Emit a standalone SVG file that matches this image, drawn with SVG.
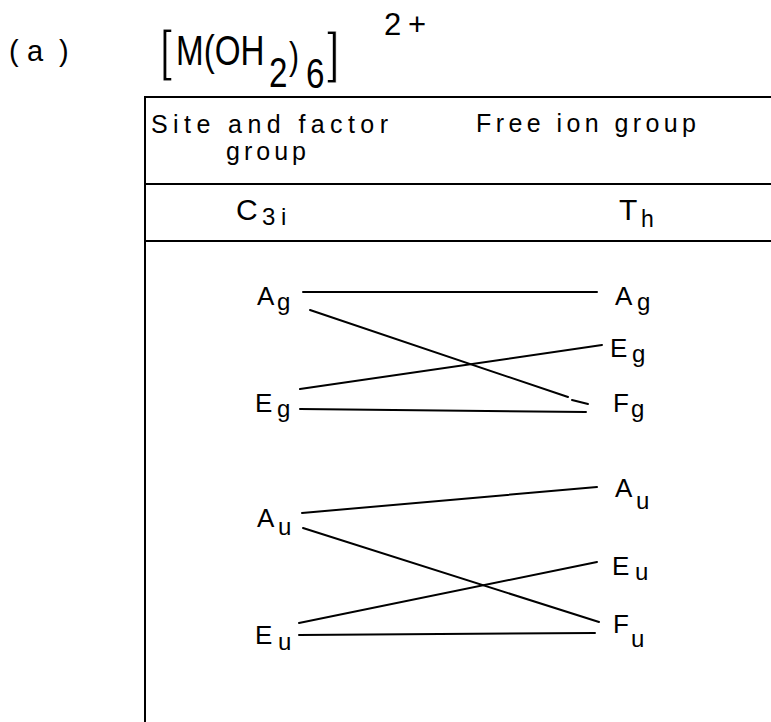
<svg xmlns="http://www.w3.org/2000/svg" width="771" height="722" viewBox="0 0 771 722">
  <style>
    text { font-family: "Liberation Sans", Arial, sans-serif; fill: #000; }
    .lab { font-size: 26px; }
    .sub { font-size: 24px; }
    .hdr { font-size: 25px; }
    .thin { stroke: #fff; stroke-width: 0.8px; }
    .rule { stroke: #000; stroke-width: 2; fill: none; }
    .conn line { stroke: #000; stroke-width: 2; stroke-linecap: round; }
  </style>
  <rect width="771" height="722" fill="#fff"/>

  <g id="label-a">
    <text x="9 27 59" y="61" font-size="29">(a)</text>
  </g>

  <g id="title">
    <text transform="scale(0.79,1)"><tspan class="thin" x="202.5" y="69" font-size="55">[</tspan><tspan x="222.8" y="65" font-size="42">M(OH</tspan><tspan x="340.5" y="87" font-size="42">2</tspan><tspan x="365.8" y="69" font-size="38">)</tspan><tspan x="387.3" y="88" font-size="42">6</tspan><tspan class="thin" x="413.9" y="71" font-size="56">]</tspan></text>
    <text x="384 408" y="35" font-size="31">2+</text>
  </g>

  <g id="table">
    <line class="rule" x1="145" y1="97" x2="145" y2="722"/>
    <line class="rule" x1="144" y1="97" x2="771" y2="97"/>
    <line class="rule" x1="144" y1="184" x2="771" y2="184"/>
    <line class="rule" x1="144" y1="241" x2="771" y2="241"/>
  </g>

  <g id="header">
    <text class="hdr" x="151" y="133" textLength="237" lengthAdjust="spacing">Site and factor</text>
    <text class="hdr" x="226" y="160" textLength="80" lengthAdjust="spacing">group</text>
    <text class="hdr" x="476" y="132" textLength="220" lengthAdjust="spacing">Free ion group</text>
  </g>

  <g id="group-C3i">
    <text x="236" y="220" font-size="30">C</text>
    <text x="262 281" y="225" font-size="24">3i</text>
  </g>
  <g id="group-Th">
    <text x="619" y="220" font-size="30">T</text>
    <text x="641" y="227" font-size="23">h</text>
  </g>

  <g id="left-Ag"><text class="lab" x="257" y="305">A</text><text class="sub" x="277" y="310">g</text></g>
  <g id="left-Eg"><text class="lab" x="255" y="412">E</text><text class="sub" x="277" y="417">g</text></g>
  <g id="left-Au"><text class="lab" x="257" y="527">A</text><text class="sub" x="278" y="535">u</text></g>
  <g id="left-Eu"><text class="lab" x="255" y="644">E</text><text class="sub" x="278" y="650">u</text></g>

  <g id="right-Ag"><text class="lab" x="615" y="305">A</text><text class="sub" x="637" y="310">g</text></g>
  <g id="right-Eg"><text class="lab" x="610" y="357">E</text><text class="sub" x="632" y="362">g</text></g>
  <g id="right-Fg"><text class="lab" x="613" y="412">F</text><text class="sub" x="631" y="417">g</text></g>
  <g id="right-Au"><text class="lab" x="615" y="497">A</text><text class="sub" x="636" y="509">u</text></g>
  <g id="right-Eu"><text class="lab" x="612" y="575">E</text><text class="sub" x="635" y="580">u</text></g>
  <g id="right-Fu"><text class="lab" x="613" y="633">F</text><text class="sub" x="631" y="647">u</text></g>

  <g id="connectors" class="conn">
    <line x1="303" y1="292" x2="597" y2="292"/>
    <line x1="310" y1="310" x2="568" y2="397"/>
    <line x1="572" y1="400" x2="588" y2="404"/>
    <line x1="300" y1="389" x2="602" y2="345"/>
    <line x1="300" y1="409" x2="586" y2="412"/>
    <line x1="302" y1="513" x2="597" y2="487"/>
    <line x1="303" y1="528" x2="599" y2="622"/>
    <line x1="299" y1="623" x2="597" y2="562"/>
    <line x1="299" y1="635" x2="595" y2="633"/>
  </g>
</svg>
